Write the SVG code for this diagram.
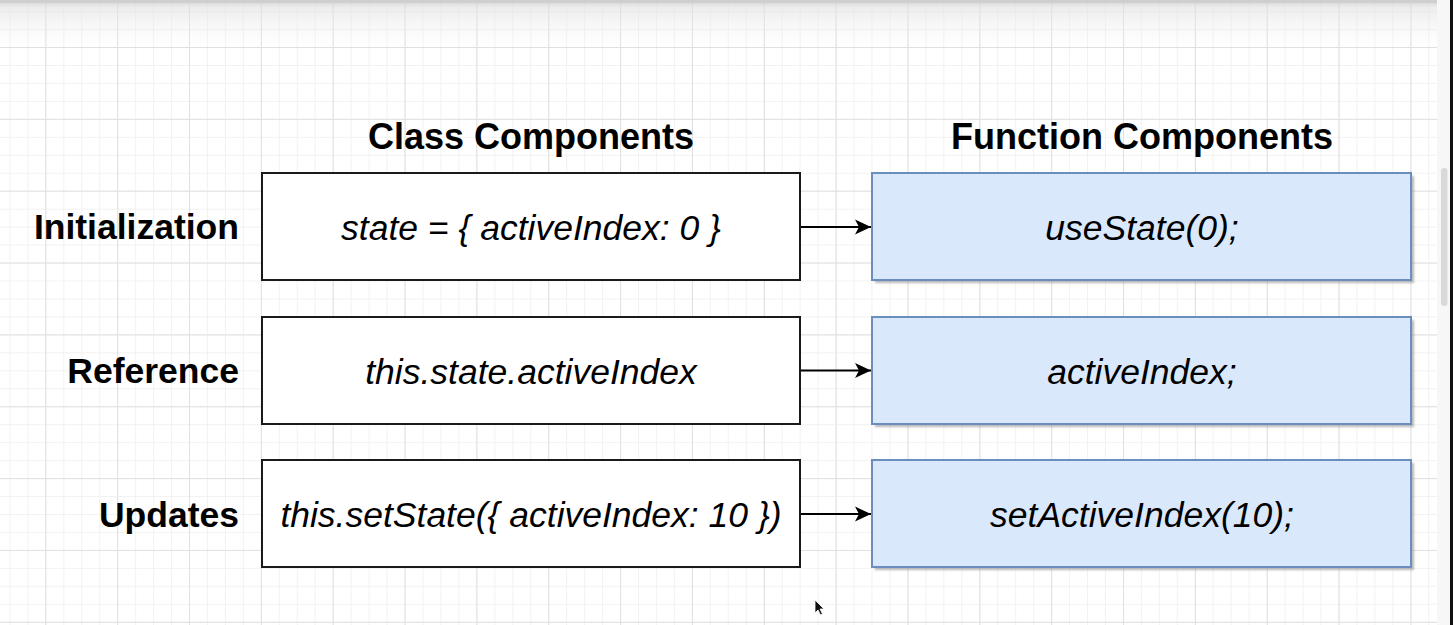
<svg xmlns="http://www.w3.org/2000/svg" width="1453" height="625" viewBox="0 0 1453 625">
  <defs>
    <pattern id="minor" x="9.4" y="11.1" width="17.96" height="17.96" patternUnits="userSpaceOnUse">
      <path d="M0,0.5 H17.96 M0.5,0 V17.96" fill="none" stroke="#f2f2f2" stroke-width="1"/>
    </pattern>
    <pattern id="major" x="45.3" y="47" width="71.85" height="71.85" patternUnits="userSpaceOnUse">
      <path d="M0,0.5 H71.85 M0.5,0 V71.85" fill="none" stroke="#e0e0e0" stroke-width="1"/>
    </pattern>
    <linearGradient id="topShade" x1="0" y1="0" x2="0" y2="1">
      <stop offset="0" stop-color="#c8c8c8" stop-opacity="0.9"/>
      <stop offset="0.15" stop-color="#e0e0e0" stop-opacity="0.6"/>
      <stop offset="1" stop-color="#f2f2f2" stop-opacity="0"/>
    </linearGradient>
    <filter id="blur1" x="-5%" y="-5%" width="110%" height="110%">
      <feGaussianBlur stdDeviation="1"/>
    </filter>
    <marker id="arrow" viewBox="0 0 16 16" refX="16" refY="8" markerWidth="16" markerHeight="16" markerUnits="userSpaceOnUse" orient="auto">
      <path d="M16,8 L0,0.6 L4,8 L0,15.4 Z" fill="#000"/>
    </marker>
    <style>
      .title { font-family: "Liberation Sans", Arial, sans-serif; font-weight: bold; font-size: 36px; fill: #000; text-anchor: middle; }
      .label { font-family: "Liberation Sans", Arial, sans-serif; font-weight: bold; font-size: 35.5px; fill: #000; text-anchor: end; }
      .code { font-family: "Liberation Sans", Arial, sans-serif; font-style: italic; font-size: 35.5px; fill: #000; text-anchor: middle; }
      .cls { fill: #ffffff; stroke: #1a1a1a; stroke-width: 2; }
      .fn { fill: #dae8fc; stroke: #6c8ebf; stroke-width: 2; }
      .shadow { fill: #8a8a8a; opacity: 0.6; filter: url(#blur1); }
      .edge { fill: none; stroke: #000; stroke-width: 2; marker-end: url(#arrow); }
    </style>
  </defs>

  <!-- canvas background with grid -->
  <rect x="0" y="0" width="1453" height="625" fill="#ffffff"/>
  <rect x="0" y="0" width="1437" height="625" fill="url(#minor)"/>
  <rect x="0" y="0" width="1437" height="625" fill="url(#major)"/>
  <rect x="0" y="0" width="1453" height="48" fill="url(#topShade)"/>
  <rect x="0" y="0" width="1453" height="3" fill="#cfcfcf"/>

  <!-- right side panel and scrollbar -->
  <rect x="1437" y="0" width="14" height="625" fill="#f7f7f7"/>
  <rect x="1441" y="168" width="6.5" height="138" rx="3.2" fill="#d9d9d9"/>
  <rect x="1450" y="0" width="3" height="625" fill="#111111"/>

  <!-- column headers -->
  <text class="title" x="531" y="149">Class Components</text>
  <text class="title" x="1142" y="149">Function Components</text>

  <!-- row labels -->
  <text class="label" x="239" y="239">Initialization</text>
  <text class="label" x="239" y="383">Reference</text>
  <text class="label" x="239" y="527">Updates</text>

  <!-- class component nodes -->
  <g id="class-init">
    <rect class="cls" x="262" y="173" width="538" height="107"/>
    <text class="code" x="531" y="240">state = { activeIndex: 0 }</text>
  </g>
  <g id="class-ref">
    <rect class="cls" x="262" y="317" width="538" height="107"/>
    <text class="code" x="531" y="384">this.state.activeIndex</text>
  </g>
  <g id="class-update">
    <rect class="cls" x="262" y="460" width="538" height="107"/>
    <text class="code" x="531" y="527">this.setState({ activeIndex: 10 })</text>
  </g>

  <!-- function component nodes -->
  <g id="fn-init">
    <rect class="shadow" x="875" y="176" width="539" height="107"/>
    <rect class="fn" x="872" y="173" width="539" height="107"/>
    <text class="code" x="1142" y="240">useState(0);</text>
  </g>
  <g id="fn-ref">
    <rect class="shadow" x="875" y="320" width="539" height="107"/>
    <rect class="fn" x="872" y="317" width="539" height="107"/>
    <text class="code" x="1142" y="384">activeIndex;</text>
  </g>
  <g id="fn-update">
    <rect class="shadow" x="875" y="463" width="539" height="107"/>
    <rect class="fn" x="872" y="460" width="539" height="107"/>
    <text class="code" x="1142" y="527">setActiveIndex(10);</text>
  </g>

  <!-- connectors -->
  <g id="connectors">
    <path class="edge" d="M801,227 H871"/>
    <path class="edge" d="M801,370.5 H871"/>
    <path class="edge" d="M801,514 H871"/>
  </g>

  <!-- mouse pointer -->
  <path d="M815,600 L815,613 L818,610 L820.5,615 L822.5,614 L820,609 L824,609 Z" fill="#111" stroke="#ffffff" stroke-width="0.8"/>
</svg>
